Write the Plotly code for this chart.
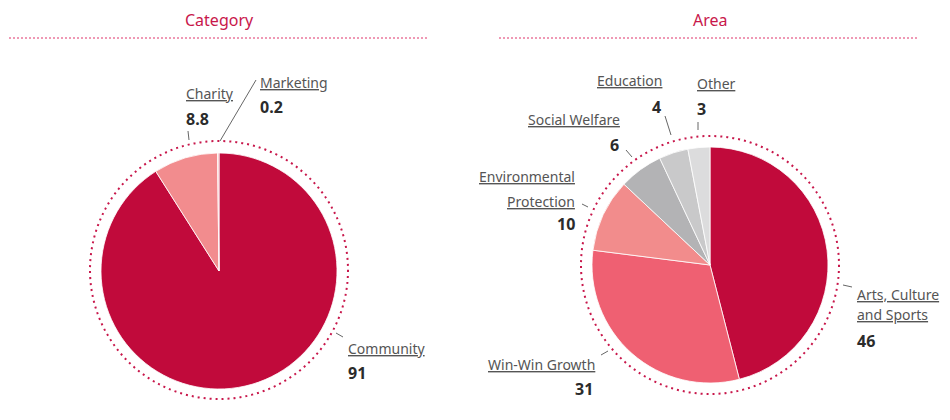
import plotly.graph_objects as go

W, H = 950, 420

# ---- data ----
category_labels = ["Community", "Charity", "Marketing"]
category_values = [91, 8.8, 0.2]
category_colors = ["#c10a3b", "#f28c8e", "#f5b7b9"]

area_labels = ["Arts, Culture and Sports", "Win-Win Growth", "Environmental Protection",
               "Social Welfare", "Education", "Other"]
area_values = [46, 31, 10, 6, 4, 3]
area_colors = ["#c10a3b", "#ef6072", "#f28c8c", "#b3b3b5", "#c9c9ca", "#dcdcdd"]

# ---- layout helpers (pixel -> paper) ----
def px(x):
    return x / W

def py(y):
    return 1 - y / H

RED = "#c8174b"
TXT = "#555555"
VAL = "#2b2b2b"
FONT = "Noto Sans"

fig = go.Figure()

def add_pie(labels, values, colors, cx, cy, r):
    fig.add_trace(go.Pie(
        labels=labels, values=values, sort=False, direction="clockwise", rotation=0,
        marker=dict(colors=colors, line=dict(color="#ffffff", width=0.8)),
        textinfo="none", showlegend=False,
        domain=dict(x=[px(cx - r), px(cx + r)], y=[py(cy + r), py(cy - r)]),
    ))

add_pie(category_labels, category_values, category_colors, 219, 271, 118)
add_pie(area_labels, area_values, area_colors, 710, 265, 118)

shapes = []
annotations = []

# dotted rings around pies
for cx, cy, r in [(219, 270, 129), (710, 265, 129)]:
    shapes.append(dict(type="circle", xref="paper", yref="paper",
                       x0=px(cx - r), x1=px(cx + r), y0=py(cy + r), y1=py(cy - r),
                       line=dict(color=RED, width=2, dash="2px,4px")))

# panel titles with dotted rules
for title, cx, x0, x1 in [("Category", 219, 9, 429), ("Area", 710, 499, 919)]:
    annotations.append(dict(text=title, x=px(cx), y=py(20), xref="paper", yref="paper",
                            xanchor="center", yanchor="middle", showarrow=False,
                            font=dict(family=FONT, size=16, color=RED)))
    shapes.append(dict(type="line", xref="paper", yref="paper",
                       x0=px(x0), x1=px(x1), y0=py(38), y1=py(38),
                       line=dict(color="#e0336a", width=1, dash="2px,2px")))

def label(text, x, y, anchor):
    annotations.append(dict(text=text, x=px(x), y=py(y), xref="paper", yref="paper",
                            xanchor=anchor, yanchor="middle", showarrow=False,
                            font=dict(family=FONT, size=14, color=TXT, lineposition="under")))

def value(v, x, y, anchor):
    annotations.append(dict(text="<b>%s</b>" % f"{v:g}", x=px(x), y=py(y),
                            xref="paper", yref="paper", xanchor=anchor, yanchor="middle",
                            showarrow=False, font=dict(family=FONT, size=16, color=VAL)))

def leader(x0, y0, x1, y1):
    shapes.append(dict(type="line", xref="paper", yref="paper",
                       x0=px(x0), y0=py(y0), x1=px(x1), y1=py(y1),
                       line=dict(color="#666666", width=1)))

# label placement: name lines, value position, anchor, leader segment
category_layout = {
    "Community": ([(346, 348)], (346, 372.5), "left", (336, 333, 343, 337)),
    "Charity": ([(184, 93)], (184, 118.5), "left", (188, 131, 189, 140)),
    "Marketing": ([(258, 83)], (258, 107.5), "left", (220, 141, 256, 80)),
}
area_layout = {
    "Arts, Culture and Sports": ([("Arts, Culture", 855, 294), ("and Sports", 855, 314.5)],
                                 (855, 340.5), "left", (843, 285, 852, 287)),
    "Win-Win Growth": ([("Win-Win Growth", 597, 364)], (595, 389), "right", (601, 355, 608, 351)),
    "Environmental Protection": ([("Environmental", 577, 176), ("Protection", 577, 201.5)],
                                 (577, 224), "right", (582, 204, 588, 207)),
    "Social Welfare": ([("Social Welfare", 622, 119)], (621, 145), "right", (626, 150, 632, 157)),
    "Education": ([("Education", 664, 81)], (663, 107), "right", (665, 116, 671, 135)),
    "Other": ([("Other", 695, 83.5)], (695, 109), "left", (698, 122, 698, 130)),
}

for name, v in zip(category_labels, category_values):
    lines, (vx, vy), anchor, seg = category_layout[name]
    for (lx, ly) in lines:
        label(name, lx, ly, anchor)
    value(v, vx, vy, anchor)
    leader(*seg)

for name, v in zip(area_labels, area_values):
    lines, (vx, vy), anchor, seg = area_layout[name]
    for (txt, lx, ly) in lines:
        label(txt, lx, ly, anchor)
    value(v, vx, vy, anchor)
    leader(*seg)

fig.update_layout(
    width=W, height=H, margin=dict(l=0, r=0, t=0, b=0),
    paper_bgcolor="#ffffff", plot_bgcolor="#ffffff",
    shapes=shapes, annotations=annotations,
)

fig.write_html("out.html")
